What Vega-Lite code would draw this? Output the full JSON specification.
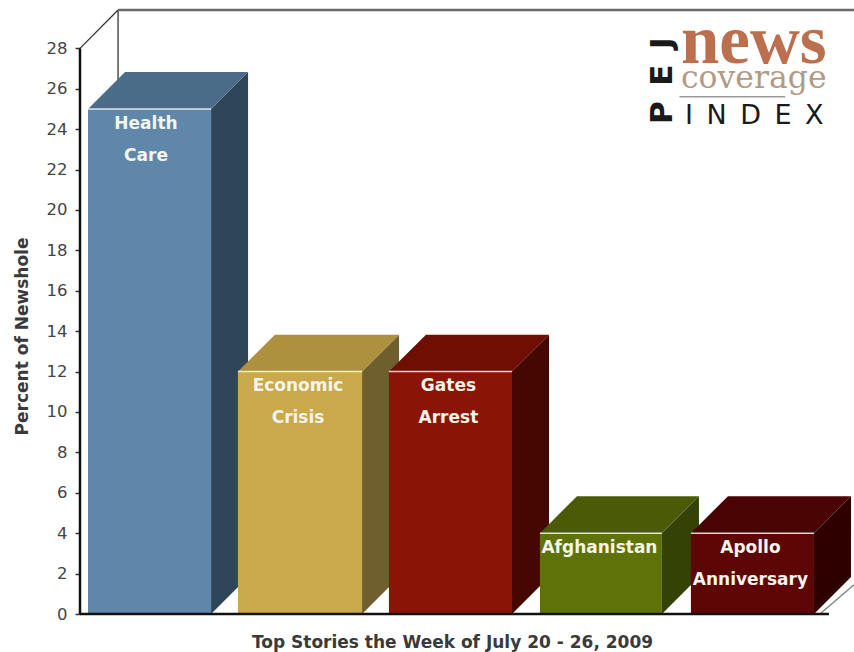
{
"$schema":"https://vega.github.io/schema/vega-lite/v6.json",
"width":774,"height":604,
"autosize":"none",
"padding":{"left":80,"top":10,"right":0,"bottom":38},
"background":"white",
"config":{"view":{"stroke":null},"font":"Liberation Sans"},
"datasets":{
"stories":[
{"story":"Health Care","x0":0.053,"x1":0.868,"value":25},
{"story":"Economic Crisis","x0":1.046,"x1":1.868,"value":12},
{"story":"Gates Arrest","x0":2.046,"x1":2.861,"value":12},
{"story":"Afghanistan","x0":3.046,"x1":3.854,"value":4},
{"story":"Apollo Anniversary","x0":4.046,"x1":4.861,"value":4}
],
"sides":[
{"part":"Health Care side","x":0.868,"low":0,"high":25},
{"part":"Health Care side","x":1.113,"low":1.83,"high":26.83},
{"part":"Economic Crisis side","x":1.868,"low":0,"high":12},
{"part":"Economic Crisis side","x":2.113,"low":1.83,"high":13.83},
{"part":"Gates Arrest side","x":2.861,"low":0,"high":12},
{"part":"Gates Arrest side","x":3.106,"low":1.83,"high":13.83},
{"part":"Afghanistan side","x":3.854,"low":0,"high":4},
{"part":"Afghanistan side","x":4.099,"low":1.83,"high":5.83},
{"part":"Apollo Anniversary side","x":4.861,"low":0,"high":4},
{"part":"Apollo Anniversary side","x":5.106,"low":1.83,"high":5.83}
],
"tops":[
{"part":"Health Care top","x":0.053,"low":25,"high":25},
{"part":"Health Care top","x":0.298,"low":25,"high":26.83},
{"part":"Health Care top","x":0.868,"low":25,"high":26.83},
{"part":"Health Care top","x":1.113,"low":26.83,"high":26.83},
{"part":"Economic Crisis top","x":1.046,"low":12,"high":12},
{"part":"Economic Crisis top","x":1.291,"low":12,"high":13.83},
{"part":"Economic Crisis top","x":1.868,"low":12,"high":13.83},
{"part":"Economic Crisis top","x":2.113,"low":13.83,"high":13.83},
{"part":"Gates Arrest top","x":2.046,"low":12,"high":12},
{"part":"Gates Arrest top","x":2.291,"low":12,"high":13.83},
{"part":"Gates Arrest top","x":2.861,"low":12,"high":13.83},
{"part":"Gates Arrest top","x":3.106,"low":13.83,"high":13.83},
{"part":"Afghanistan top","x":3.046,"low":4,"high":4},
{"part":"Afghanistan top","x":3.291,"low":4,"high":5.83},
{"part":"Afghanistan top","x":3.854,"low":4,"high":5.83},
{"part":"Afghanistan top","x":4.099,"low":5.83,"high":5.83},
{"part":"Apollo Anniversary top","x":4.046,"low":4,"high":4},
{"part":"Apollo Anniversary top","x":4.291,"low":4,"high":5.83},
{"part":"Apollo Anniversary top","x":4.861,"low":4,"high":5.83},
{"part":"Apollo Anniversary top","x":5.106,"low":5.83,"high":5.83}
],
"labels":[
{"t":"Health","x":0.437,"y":24.26},
{"t":"Care","x":0.437,"y":22.67},
{"t":"Economic","x":1.444,"y":11.29},
{"t":"Crisis","x":1.444,"y":9.7},
{"t":"Gates","x":2.44,"y":11.29},
{"t":"Arrest","x":2.44,"y":9.7},
{"t":"Afghanistan","x":3.44,"y":3.27},
{"t":"Apollo","x":4.44,"y":3.27},
{"t":"Anniversary","x":4.44,"y":1.68}
]
},
"layer":[
{"data":{"values":[{"a":0.252,"b":0.252,"c":0,"d":29.9},{"a":0,"b":0.252,"c":28,"d":29.9}]},
 "mark":{"type":"rule","color":"#333333","strokeWidth":1.3},
 "encoding":{
  "x":{"field":"a","type":"quantitative","scale":{"domain":[0,5.126],"nice":false,"zero":false},
   "axis":{"labels":false,"ticks":false,"domain":false,"grid":false,"title":"Top Stories the Week of July 20 - 26, 2009","titleFont":"DejaVu Sans","titleFontSize":17,"titleFontWeight":"bold","titleColor":"#3a3a3a","titleX":372,"titleY":33,"titleAlign":"center","titleBaseline":"alphabetic"}},
  "x2":{"field":"b"},
  "y":{"field":"c","type":"quantitative","scale":{"domain":[0,29.9],"nice":false,"zero":false},
   "axis":{"values":[0,2,4,6,8,10,12,14,16,18,20,22,24,26,28],"domain":false,"grid":false,"tickColor":"#333333","tickSize":5,"tickWidth":1.5,"labelFont":"DejaVu Sans","labelFontSize":16.5,"labelColor":"#444444","labelPadding":8,
    "title":"Percent of Newshole","titleFont":"DejaVu Sans","titleFontSize":17,"titleFontWeight":"bold","titleColor":"#3a3a3a","titleAngle":270,"titleX":-58,"titleY":326,"titleAlign":"center","titleBaseline":"middle"}},
  "y2":{"field":"d"}}},
{"data":{"values":[{"a":0.252,"b":5.126,"c":29.9}]},
 "mark":{"type":"rule","color":"#6a6a6a","strokeWidth":2.5},
 "encoding":{"x":{"field":"a","type":"quantitative"},"x2":{"field":"b"},"y":{"field":"c","type":"quantitative"}}},
{"data":{"values":[{"a":4.9,"b":5.126,"c":0,"d":1.45}]},
 "mark":{"type":"rule","color":"#888888","strokeWidth":1.5},
 "encoding":{"x":{"field":"a","type":"quantitative"},"x2":{"field":"b"},"y":{"field":"c","type":"quantitative"},"y2":{"field":"d"}}},
{"data":{"name":"sides"},
 "mark":{"type":"area","orient":"vertical"},
 "encoding":{"x":{"field":"x","type":"quantitative"},"y":{"field":"low","type":"quantitative","stack":null},"y2":{"field":"high"},
  "color":{"field":"part","type":"nominal","legend":null,"scale":{
   "domain":["Health Care side","Economic Crisis side","Gates Arrest side","Afghanistan side","Apollo Anniversary side","Health Care top","Economic Crisis top","Gates Arrest top","Afghanistan top","Apollo Anniversary top","Health Care","Economic Crisis","Gates Arrest","Afghanistan","Apollo Anniversary"],
   "range":["#2F4558","#6F5F2F","#440800","#344205","#2E0000","#4B6C88","#AD913F","#6F0F03","#4B5A06","#4A0303","#5F87A9","#C9A94B","#8A1405","#5F7208","#5E0505"]}}}},
{"data":{"name":"tops"},
 "mark":{"type":"area","orient":"vertical"},
 "encoding":{"x":{"field":"x","type":"quantitative"},"y":{"field":"low","type":"quantitative","stack":null},"y2":{"field":"high"},
  "color":{"field":"part","type":"nominal","legend":null}}},
{"data":{"name":"stories"},
 "mark":{"type":"rect"},
 "encoding":{"x":{"field":"x0","type":"quantitative"},"x2":{"field":"x1"},"y":{"field":"value","type":"quantitative"},"y2":{"datum":0},
  "color":{"field":"story","type":"nominal","legend":null}}},
{"data":{"name":"stories"},
 "mark":{"type":"rule","color":"white","strokeWidth":1.5,"opacity":0.8},
 "encoding":{"x":{"field":"x0","type":"quantitative"},"x2":{"field":"x1"},"y":{"field":"value","type":"quantitative"}}},
{"data":{"values":[{"a":0,"c":0,"d":28}]},
 "mark":{"type":"rule","color":"#111111","strokeWidth":2.5},
 "encoding":{"x":{"field":"a","type":"quantitative"},"y":{"field":"c","type":"quantitative"},"y2":{"field":"d"}}},
{"data":{"values":[{"a":0,"b":4.96,"c":0}]},
 "mark":{"type":"rule","color":"#111111","strokeWidth":2.5},
 "encoding":{"x":{"field":"a","type":"quantitative"},"x2":{"field":"b"},"y":{"field":"c","type":"quantitative"}}},
{"data":{"name":"labels"},
 "mark":{"type":"text","font":"DejaVu Sans","fontWeight":"bold","fontSize":17,"color":"#F4F4EA","align":"center","baseline":"middle"},
 "encoding":{"x":{"field":"x","type":"quantitative"},"y":{"field":"y","type":"quantitative"},"text":{"field":"t"}}},
{"data":{"values":[{"t":"news","x":3.98,"y":27.3}]},
 "mark":{"type":"text","font":"Liberation Serif","fontWeight":"bold","fontSize":69,"color":"#BC6F4D","align":"left","baseline":"alphabetic"},
 "encoding":{"x":{"field":"x","type":"quantitative"},"y":{"field":"y","type":"quantitative"},"text":{"field":"t"}}},
{"data":{"values":[{"t":"coverage","x":3.98,"y":26.04}]},
 "mark":{"type":"text","font":"DejaVu Serif","fontSize":31.5,"color":"#B39A85","align":"left","baseline":"alphabetic"},
 "encoding":{"x":{"field":"x","type":"quantitative"},"y":{"field":"y","type":"quantitative"},"text":{"field":"t"}}},
{"data":{"values":[{"a":3.97,"b":4.67,"c":25.6}]},
 "mark":{"type":"rule","color":"#999999","strokeWidth":1.5},
 "encoding":{"x":{"field":"a","type":"quantitative"},"x2":{"field":"b"},"y":{"field":"c","type":"quantitative"}}},
{"data":{"values":[{"t":"I\u2002N\u2002D\u2002E\u2002X","x":4.007,"y":24.26}]},
 "mark":{"type":"text","font":"DejaVu Sans","fontSize":27,"color":"#1a1a1a","align":"left","baseline":"alphabetic"},
 "encoding":{"x":{"field":"x","type":"quantitative"},"y":{"field":"y","type":"quantitative"},"text":{"field":"t"}}},
{"data":{"values":[{"t":"P\u2002E\u2002J","x":3.92,"y":26.4}]},
 "mark":{"type":"text","font":"DejaVu Sans","fontWeight":"bold","fontSize":31,"color":"#1a1a1a","align":"center","baseline":"alphabetic","angle":270},
 "encoding":{"x":{"field":"x","type":"quantitative"},"y":{"field":"y","type":"quantitative"},"text":{"field":"t"}}}
]
}
